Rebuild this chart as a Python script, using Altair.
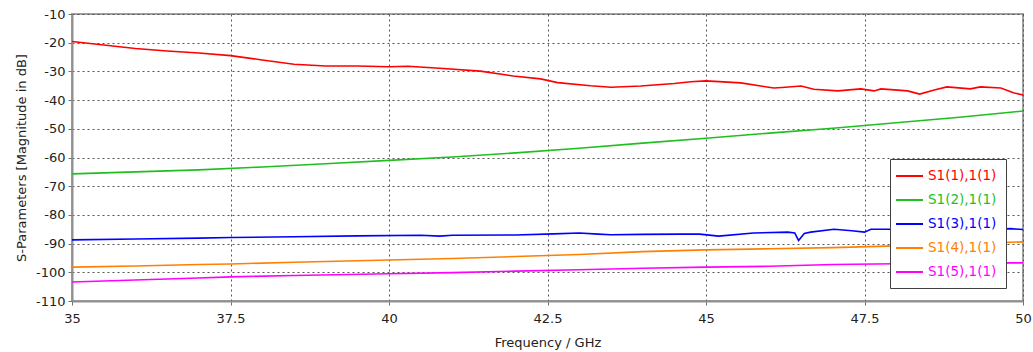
import altair as alt
import pandas as pd

series_names = ["S1(1),1(1)", "S1(2),1(1)", "S1(3),1(1)", "S1(4),1(1)", "S1(5),1(1)"]
series_colors = ["#ff0000", "#1fbf1f", "#0000ff", "#ff8000", "#ff00ff"]

red_f = [35.0, 35.5, 36.0, 36.5, 37.0, 37.5, 38.0, 38.5, 39.0, 39.5, 40.0, 40.3, 40.8, 41.44,
         41.96, 42.39, 42.66, 43.18, 43.5, 43.97, 44.5, 44.76, 45.0, 45.55, 46.07, 46.2, 46.5,
         46.7, 47.08, 47.44, 47.65, 47.76, 48.18, 48.37, 48.6, 48.8, 49.17, 49.33, 49.65, 49.86, 50.0]
red_v = [-19.6, -20.8, -22.0, -22.9, -23.6, -24.5, -26.0, -27.5, -28.1, -28.1, -28.4, -28.2, -28.9, -29.9,
         -31.6, -32.6, -33.9, -35.0, -35.5, -35.1, -34.2, -33.6, -33.3, -34.0, -35.8, -35.6, -35.1,
         -36.2, -36.8, -36.1, -36.8, -36.1, -36.8, -37.9, -36.5, -35.4, -36.1, -35.4, -35.8, -37.5, -38.2]

green_f = [35, 36, 37, 38, 39, 40, 41, 42, 43, 44, 45, 46, 47, 48, 49, 50]
green_v = [-65.7, -65.0, -64.3, -63.3, -62.2, -61.0, -59.8, -58.4, -56.8, -55.0, -53.3, -51.5, -49.8, -47.9, -46.0, -43.8]

blue_f = [35.0, 36.0, 37.0, 37.5, 38.5, 39.5, 40.5, 40.8, 41.0, 42.0, 42.6, 43.0, 43.3, 43.5, 44.0, 44.6,
          44.9, 45.2, 45.75, 46.29, 46.4, 46.46, 46.55, 46.65, 47.02, 47.3, 47.5, 47.6, 47.9, 48.5, 49.0,
          49.5, 49.8, 50.0]
blue_v = [-88.7, -88.4, -88.1, -87.9, -87.6, -87.3, -87.1, -87.4, -87.1, -87.0, -86.6, -86.3, -86.7, -86.9, -86.8, -86.7,
          -86.7, -87.4, -86.3, -86.0, -86.3, -88.9, -86.5, -86.0, -85.0, -85.5, -86.0, -85.0, -85.0, -85.1, -85.2,
          -85.1, -84.8, -85.1]

orange_f = [35, 36, 37, 37.5, 38.5, 40, 41, 42, 43, 44, 45, 46, 47, 48, 49, 50]
orange_v = [-98.2, -97.8, -97.3, -97.1, -96.5, -95.7, -95.2, -94.5, -93.8, -92.8, -92.2, -91.8, -91.4, -90.8, -90.1, -89.4]

magenta_f = [35, 36, 37, 37.5, 38.5, 40, 41, 42, 43, 44, 45, 46, 47, 48, 49, 50]
magenta_v = [-103.4, -102.7, -102.0, -101.6, -101.1, -100.5, -100.1, -99.6, -99.1, -98.6, -98.2, -97.9, -97.3, -97.0, -96.8, -96.7]

x_ticks = [35, 37.5, 40, 42.5, 45, 47.5, 50]
y_ticks = [-110, -100, -90, -80, -70, -60, -50, -40, -30, -20, -10]

rows = []
for name, fs, vs in zip(series_names,
                        [red_f, green_f, blue_f, orange_f, magenta_f],
                        [red_v, green_v, blue_v, orange_v, magenta_v]):
    for i, (f, v) in enumerate(zip(fs, vs)):
        rows.append({"series": name, "f": f, "v": v, "order": i})
df = pd.DataFrame(rows)

label_color_expr = " : ".join(
    [f"datum.label == '{n}' ? '{c}'" for n, c in zip(series_names, series_colors)]
) + " : 'black'"

font = "DejaVu Sans"

chart = alt.Chart(df).mark_line(strokeWidth=1.6).encode(
    x=alt.X("f:Q", title="Frequency / GHz",
            scale=alt.Scale(domain=[35, 50], nice=False, zero=False),
            axis=alt.Axis(values=x_ticks, labelExpr="'' + datum.value", tickSize=4,
                          labelFlush=False, labelPadding=7, titlePadding=11)),
    y=alt.Y("v:Q", title="S-Parameters [Magnitude in dB]",
            scale=alt.Scale(domain=[-110, -10], nice=False, zero=False),
            axis=alt.Axis(values=y_ticks, labelExpr="'' + datum.value", tickSize=4,
                          labelFlush=False, labelPadding=3, titlePadding=7)),
    color=alt.Color("series:N",
                    scale=alt.Scale(domain=series_names, range=series_colors),
                    legend=alt.Legend(title=None, orient="none", legendX=818, legendY=145,
                                      symbolType="M-1.57,0L2.29,0", symbolSize=196,
                                      symbolStrokeWidth=2, symbolFillColor="transparent",
                                      labelFontSize=13.5, labelFont=font,
                                      labelColor={"expr": label_color_expr},
                                      fillColor="white", strokeColor="#404040",
                                      padding=9, rowPadding=9, labelOffset=13)),
    order="order:Q",
).properties(
    width=951, height=287,
    background="white",
    autosize=alt.AutoSizeParams(type="none"),
    padding={"left": 72, "top": 14, "right": 10, "bottom": 51},
).configure_view(
    stroke="#a0a0a0", strokeWidth=2
).configure_axis(
    grid=True, gridColor="#555555", gridDash=[2, 3], gridWidth=1, gridOpacity=1,
    domainColor="#909090", domainWidth=2, tickColor="#707070",
    labelFont=font, labelFontSize=13, labelColor="#222222",
    titleFont=font, titleFontSize=13, titleFontWeight="normal", titleColor="#222222",
)

chart.save("out.html", embed_options={"renderer": "svg", "actions": False})
